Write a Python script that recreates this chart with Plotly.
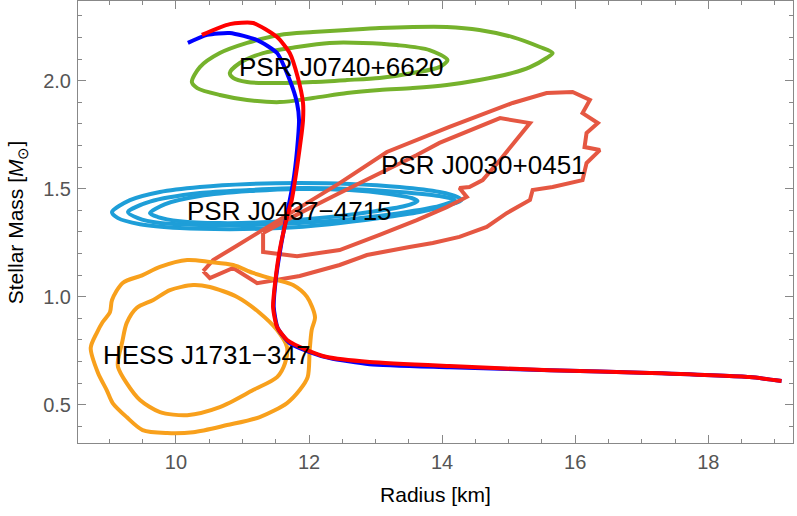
import plotly.graph_objects as go

# EOS mass-radius curves (radius km, mass Msun)
blue_r = [10.18, 10.47, 10.81, 11.22, 11.52, 11.71, 11.82, 11.85, 11.82, 11.76, 11.68, 11.58, 11.50, 11.47,
          11.53, 11.71, 12.01, 12.31, 12.91, 14.11, 15.62, 17.12, 18.62, 19.10]
blue_m = [2.175, 2.212, 2.221, 2.188, 2.128, 2.003, 1.897, 1.818, 1.679, 1.526, 1.401, 1.239, 1.077, 0.952,
          0.855, 0.785, 0.744, 0.716, 0.688, 0.674, 0.660, 0.647, 0.628, 0.610]
red_r = [10.39, 10.81, 11.16, 11.52, 11.71, 11.83, 11.91, 11.91, 11.89, 11.82, 11.74, 11.67, 11.56, 11.49,
         11.46, 11.52, 11.67, 11.97, 12.27, 12.91, 14.11, 15.62, 17.12, 18.62, 19.10]
red_m = [2.212, 2.262, 2.267, 2.202, 2.128, 2.017, 1.897, 1.818, 1.758, 1.600, 1.448, 1.369, 1.216, 1.063,
         0.952, 0.860, 0.800, 0.753, 0.721, 0.698, 0.679, 0.660, 0.647, 0.628, 0.610]

# PSR J0740+6620 contours
j0740_outer_r = [10.24, 10.36, 10.66, 11.07, 11.56, 12.06, 12.57, 13.06, 13.56, 14.07, 14.56, 15.06, 15.47, 15.66,
                 15.57, 15.32, 15.06, 14.56, 14.07, 13.56, 13.06, 12.57, 12.06, 11.56, 11.07, 10.66, 10.32]
j0740_outer_m = [1.994, 2.063, 2.128, 2.175, 2.212, 2.225, 2.235, 2.244, 2.249, 2.249, 2.235, 2.202, 2.156, 2.128,
                 2.105, 2.063, 2.036, 2.003, 1.980, 1.966, 1.957, 1.943, 1.920, 1.901, 1.911, 1.934, 1.966]
j0740_inner_r = [10.81, 10.96, 11.31, 11.82, 12.31, 12.81, 13.32, 13.81, 14.08, 13.96, 13.56, 13.06, 12.57, 12.06,
                 11.56, 11.07, 10.86]
j0740_inner_m = [2.036, 2.082, 2.128, 2.156, 2.175, 2.175, 2.165, 2.142, 2.096, 2.063, 2.036, 2.013, 2.003, 1.994,
                 1.989, 1.994, 2.013]

# PSR J0437-4715 contours
j0437_outer_r = [9.04, 9.31, 9.76, 10.36, 11.11, 11.86, 12.61, 13.36, 13.96, 14.23, 14.29, 14.11, 13.66, 13.06,
                 12.31, 11.56, 10.81, 10.06, 9.46, 9.13]
j0437_outer_m = [1.392, 1.447, 1.485, 1.508, 1.522, 1.526, 1.522, 1.508, 1.485, 1.462, 1.447, 1.425, 1.392, 1.364,
                 1.336, 1.318, 1.313, 1.318, 1.336, 1.364]
j0437_mid_r = [9.28, 9.61, 10.36, 11.11, 11.86, 12.61, 13.36, 13.96, 14.19, 13.96, 13.36, 12.61, 11.86, 11.11,
               10.36, 9.76, 9.43]
j0437_mid_m = [1.392, 1.440, 1.480, 1.494, 1.503, 1.499, 1.485, 1.466, 1.448, 1.420, 1.387, 1.359, 1.341, 1.332,
               1.332, 1.341, 1.364]
j0437_inner_r = [9.61, 9.84, 10.36, 11.11, 11.86, 12.61, 13.21, 13.54, 13.63, 13.44, 12.91, 12.16, 11.41, 10.66,
                 10.06, 9.73]
j0437_inner_m = [1.387, 1.429, 1.466, 1.489, 1.499, 1.494, 1.475, 1.457, 1.443, 1.420, 1.392, 1.364, 1.346, 1.341,
                 1.350, 1.369]

# PSR J0030+0451 contours
j0030_outer_r = [10.41, 10.56, 10.86, 11.31, 11.86, 12.46, 13.17, 14.11, 15.06, 15.57, 15.96, 16.22, 16.11, 16.34,
                 16.17, 16.14, 16.37, 16.17, 16.11, 15.66, 15.36, 15.32, 14.97, 14.67, 14.26, 13.86, 13.51, 12.87,
                 12.46, 11.86, 11.22, 10.86, 10.51]
j0030_outer_m = [1.119, 1.170, 1.226, 1.309, 1.415, 1.526, 1.670, 1.786, 1.897, 1.943, 1.948, 1.911, 1.850, 1.804,
                 1.758, 1.693, 1.679, 1.619, 1.540, 1.508, 1.494, 1.448, 1.387, 1.323, 1.277, 1.249, 1.230, 1.193,
                 1.147, 1.096, 1.063, 1.133, 1.086]
j0030_inner_r = [11.31, 11.86, 12.46, 13.11, 13.62, 13.96, 14.61, 14.87, 15.32, 15.12, 14.87, 14.61, 14.41, 14.26,
                 14.37, 14.07, 13.62, 13.06, 12.46, 11.82, 11.71, 11.31]
j0030_inner_m = [1.295, 1.387, 1.480, 1.577, 1.656, 1.712, 1.795, 1.827, 1.804, 1.725, 1.633, 1.540, 1.508, 1.503,
                 1.462, 1.415, 1.355, 1.286, 1.216, 1.188, 1.193, 1.207]

# HESS J1731-347 contours
hess_outer_r = [8.72, 8.81, 8.90, 9.01, 9.04, 9.20, 9.50, 9.76, 10.17, 10.51, 10.86, 11.16, 11.52, 11.76, 11.97,
                12.09, 12.04, 12.01, 11.98, 11.86, 11.67, 11.26, 10.77, 10.26, 9.87, 9.50, 9.26, 9.05, 8.96, 8.83]
hess_outer_m = [0.763, 0.832, 0.883, 0.929, 0.985, 1.064, 1.100, 1.138, 1.170, 1.161, 1.147, 1.110, 1.077, 1.054,
                0.999, 0.906, 0.846, 0.753, 0.628, 0.568, 0.508, 0.443, 0.406, 0.373, 0.369, 0.383, 0.443, 0.508,
                0.568, 0.647]
hess_inner_r = [9.13, 9.19, 9.26, 9.41, 9.66, 9.91, 10.26, 10.51, 10.92, 11.26, 11.52, 11.67, 11.64, 11.52, 11.16,
                10.66, 10.17, 9.76, 9.46, 9.26, 9.13]
hess_inner_m = [0.707, 0.786, 0.878, 0.948, 0.985, 1.031, 1.054, 1.045, 0.999, 0.925, 0.846, 0.767, 0.693, 0.628,
                0.568, 0.489, 0.452, 0.466, 0.522, 0.600, 0.675]

labels = ["PSR J0740+6620", "PSR J0030+0451", "PSR J0437\u22124715", "HESS J1731\u2212347"]
label_r = [12.49, 14.62, 11.70, 10.46]
label_m = [2.063, 1.610, 1.397, 0.730]

GREEN = "rgb(117,178,44)"
CYAN = "rgb(30,158,216)"
SALMON = "rgb(229,87,66)"
ORANGE = "rgb(248,160,28)"
FONT = "Liberation Sans, Arial"


def closed(a):
    return list(a) + [a[0]]


fig = go.Figure()


def contour(r, m, color, shape="spline"):
    fig.add_trace(go.Scatter(x=closed(r), y=closed(m), mode="lines",
                             line=dict(color=color, width=4, shape=shape, smoothing=0.8),
                             showlegend=False, hoverinfo="skip"))


contour(j0740_outer_r, j0740_outer_m, GREEN)
contour(j0740_inner_r, j0740_inner_m, GREEN)
contour(j0437_outer_r, j0437_outer_m, CYAN)
contour(j0437_mid_r, j0437_mid_m, CYAN)
contour(j0437_inner_r, j0437_inner_m, CYAN)
contour(j0030_outer_r, j0030_outer_m, SALMON, "linear")
contour(j0030_inner_r, j0030_inner_m, SALMON, "linear")
contour(hess_outer_r, hess_outer_m, ORANGE)
contour(hess_inner_r, hess_inner_m, ORANGE)

fig.add_trace(go.Scatter(x=blue_r, y=blue_m, mode="lines",
                         line=dict(color="#0000ff", width=4, shape="spline", smoothing=0.6),
                         showlegend=False))
fig.add_trace(go.Scatter(x=red_r, y=red_m, mode="lines",
                         line=dict(color="#ff0000", width=4, shape="spline", smoothing=0.6),
                         showlegend=False))

for t, xr, ym in zip(labels, label_r, label_m):
    fig.add_annotation(x=xr, y=ym, text=t, showarrow=False,
                       font=dict(size=26, color="black", family=FONT))

# y-axis title placed as a rotated annotation so it can sit close to the page edge
fig.add_annotation(xref="paper", yref="paper", x=-0.085, y=0.5, xanchor="center", yanchor="middle",
                   text="Stellar Mass [<i>M</i><sub>\u2299</sub>]", textangle=-90, showarrow=False,
                   font=dict(size=21, color="black", family=FONT))

axis_common = dict(showline=True, linecolor="#888888", linewidth=1, mirror="allticks",
                   ticks="inside", ticklen=8, tickcolor="#888888", showgrid=False, zeroline=False,
                   automargin=False,
                   tickfont=dict(size=20, color="#555555", family=FONT))

fig.update_xaxes(range=[8.529, 19.272], dtick=2, tick0=10, ticklabelstandoff=1,
                 minor=dict(ticks="inside", dtick=0.5, ticklen=4, tickcolor="#888888"),
                 title=dict(text="Radius [km]", font=dict(size=21, color="black", family=FONT),
                            standoff=15),
                 **axis_common)
fig.update_yaxes(range=[0.323, 2.369], dtick=0.5, tick0=0.5, tickformat=".1f", ticklabelstandoff=2,
                 minor=dict(ticks="inside", dtick=0.1, ticklen=4, tickcolor="#888888"),
                 **axis_common)

fig.update_layout(width=797, height=516, margin=dict(l=78, r=4, t=1, b=73),
                  plot_bgcolor="white", paper_bgcolor="white",
                  font=dict(family=FONT))

# drop the browser's default body margin so the figure sits at the page origin
fig.write_html("out.html", config={"displayModeBar": False},
               post_script="document.body.style.margin='0';")
